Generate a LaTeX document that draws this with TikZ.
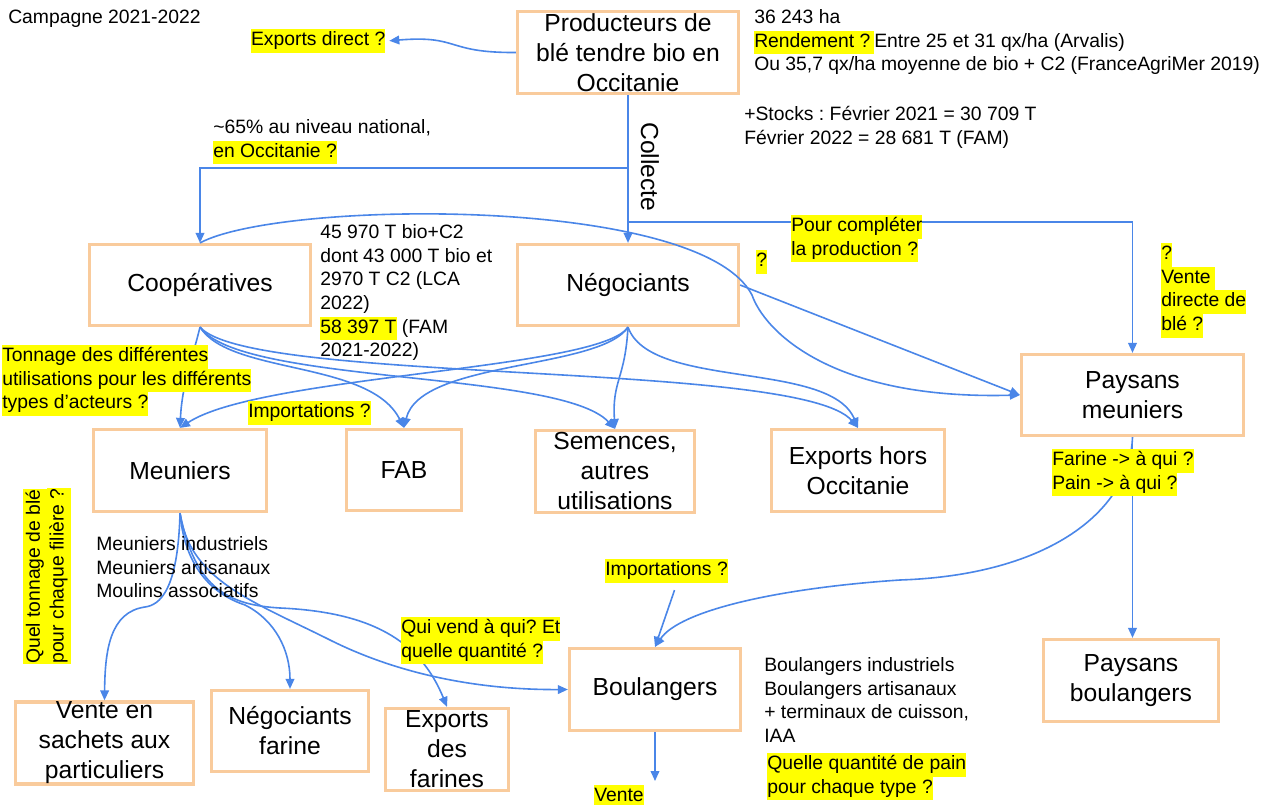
\documentclass[tikz,border=0pt]{standalone}
\usepackage{fontspec}
\setmainfont{Liberation Sans}
\usetikzlibrary{arrows.meta}
\definecolor{boxor}{HTML}{F9CB9C}
\definecolor{arrblue}{HTML}{4A86E8}
\definecolor{hlyel}{HTML}{FFFF00}
\newcommand\bxf{\fontsize{18.5}{22.5}\selectfont}
\newcommand\smf{\fontsize{14.5}{17.7}\selectfont}
\newcommand\hlt[1]{{\setlength{\fboxsep}{0pt}\colorbox{hlyel}{\strut #1}}}
\pgfdeclarelayer{back}
\pgfdeclarelayer{boxes}
\pgfdeclarelayer{links}
\pgfsetlayers{back,boxes,links,main}
\tikzset{
  box/.style={draw=boxor, line width=2.4pt, fill=white, align=center, inner sep=0pt, font=\bxf},
  arr/.style={draw=arrblue, line width=1.2pt, -{Triangle[length=7.5pt,width=6.5pt]}},
  txt/.style={inner sep=0pt, align=left, font=\smf, anchor=north west},
}
\frenchspacing
\begin{document}
\begin{tikzpicture}[x=0.75pt,y=-0.75pt]
\begin{pgfonlayer}{back}
\fill[white] (0,0) rectangle (1278,805);
\end{pgfonlayer}
\useasboundingbox (0,0) rectangle (1278,805);

% boxes
\begin{pgfonlayer}{boxes}
\node[box, minimum width=165.75pt, minimum height=61.5pt] (prod) at (628,52.5) {Producteurs de\\blé tendre bio en\\Occitanie};
\node[box, minimum width=165.75pt, minimum height=60.75pt] (coop) at (200,285) {Coopératives};
\node[box, minimum width=165.75pt, minimum height=60.75pt] (nego) at (628,285) {Négociants};
\node[box, minimum width=166.5pt, minimum height=60.75pt] (pmeun) at (1132.5,395) {Paysans\\meuniers};
\node[box, minimum width=129.75pt, minimum height=61.5pt] (meun) at (180,470.5) {Meuniers};
\node[box, minimum width=86.25pt, minimum height=60.75pt] (fab) at (404,470) {FAB};
\node[box, minimum width=119.25pt, minimum height=61.5pt] (sem) at (615,471.5) {Semences,\\autres\\utilisations};
\node[box, minimum width=129.75pt, minimum height=61.5pt] (exph) at (858,470.5) {Exports hors\\Occitanie};
\node[box, minimum width=133.5pt, minimum height=60.75pt] (vsach) at (104.5,743) {Vente en\\sachets aux\\particuliers};
\node[box, minimum width=117.75pt, minimum height=60.75pt] (negf) at (290,731) {Négociants\\farine};
\node[box, minimum width=92.25pt, minimum height=61.5pt] (expf) at (447,749.5) {Exports\\des\\farines};
\node[box, minimum width=128.25pt, minimum height=61.5pt] (boul) at (655,689.5) {Boulangers};
\node[box, minimum width=131.25pt, minimum height=61.5pt] (pboul) at (1131,680.5) {Paysans\\boulangers};
\end{pgfonlayer}

% texts
\node[txt] (camp) at (8,7) {\strut Campagne 2021-2022};
\node[txt, outer sep=3pt] (expd) at (247,25) {\hlt{Exports direct ?}};
\node[txt] (surf) at (754,7) {\strut 36 243 ha\\\hlt{Rendement ?\hspace{3pt}}Entre 25 et 31 qx/ha (Arvalis)\\\strut Ou 35,7 qx/ha moyenne de bio + C2 (FranceAgriMer 2019)};
\node[txt] (stock) at (744,104) {\strut +Stocks : Février 2021 = 30 709 T\\\strut Février 2022 = 28 681 T (FAM)};
\node[txt] (pct) at (213,117) {\strut \textasciitilde65\% au niveau national,\\\hlt{en Occitanie ?}};
\node[rotate=-90, font=\bxf, inner sep=0pt] (coll) at (650,167) {Collecte};
\node[txt] (tonn) at (320,222) {\strut 45 970 T bio+C2\\\strut dont 43 000 T bio et\\\strut 2970 T C2 (LCA\\\strut 2022)\\\hlt{58 397 T} (FAM\\\strut 2021-2022)};
\node[txt] (pourc) at (791,215) {\hlt{Pour compléter}\\\hlt{la production ?}};
\node[txt] (qm) at (756,250) {\hlt{?}};
\node[txt] (vdir) at (1161,243) {\hlt{?}\\\hlt{Vente\hspace{3pt}}\\\hlt{directe de}\\\hlt{blé ?}};
\node[txt] (tonu) at (2,345) {\hlt{Tonnage des différentes}\\\hlt{utilisations pour les différents}\\\hlt{types d’acteurs ?}};
\node[txt] (imp1) at (248,401) {\hlt{Importations ?}};
\node[txt] (farq) at (1052,449) {\hlt{Farine -> à qui ?}\\\hlt{Pain -> à qui ?}};
\node[txt] (mtyp) at (96,534) {\strut Meuniers industriels\\\strut Meuniers artisanaux\\\strut Moulins associatifs};
\node[rotate=90, inner sep=0pt, align=left, font=\smf] (qtonn) at (47,576) {\hlt{Quel tonnage de blé}\\\hlt{pour chaque filière ?}};
\node[txt] (imp2) at (605,559) {\hlt{Importations ?}};
\node[txt] (quiv) at (401,617) {\hlt{Qui vend à qui? Et}\\\hlt{quelle quantité ?}};
\node[txt] (btyp) at (764,655) {\strut Boulangers industriels\\\strut Boulangers artisanaux\\\strut + terminaux de cuisson,\\\strut IAA};
\node[txt] (qpain) at (767,753) {\hlt{Quelle quantité de pain}\\\hlt{pour chaque type ?}};
\node[txt] (vente) at (594,785) {\hlt{Vente}};

% junctions
\coordinate (j1) at (628,168);
\coordinate (j2) at (628,222);
\coordinate (vend) at (655,781);

% connectors (above boxes, below labels)
\begin{pgfonlayer}{links}
\draw[arr] (prod.west) .. controls (445,53) and (460,35) .. (expd.east);
\draw[arr] (prod.south) -- (nego.north);
\draw[arr] (j1) -| (coop.north);
\draw[arr] (j2) -| (pmeun.north);
\draw[arr] (coop.north) .. controls (280,200) and (700,195) .. (752,295) .. controls (764,330) and (830,400) .. (pmeun.west);
\draw[arr] (nego.east) -- (pmeun.west);

\draw[arr] (coop.south) .. controls (192,360) and (182,385) .. (meun.north);
\draw[arr] (coop.south) .. controls (230,375) and (370,360) .. (fab.north);
\draw[arr] (coop.south) .. controls (240,385) and (560,370) .. (sem.north);
\draw[arr] (coop.south) .. controls (250,385) and (800,360) .. (exph.north);

\draw[arr] (nego.south) .. controls (600,370) and (260,375) .. (meun.north);
\draw[arr] (nego.south) .. controls (600,370) and (420,360) .. (fab.north);
\draw[arr] (nego.south) .. controls (625,380) and (612,380) .. (sem.north);
\draw[arr] (nego.south) .. controls (650,390) and (830,360) .. (exph.north);

\draw[arr] (meun.south) .. controls (178,590) and (160,605) .. (145,607) .. controls (110,612) and (105,650) .. (vsach.north);
\draw[arr] (meun.south) .. controls (185,570) and (215,595) .. (245,605) .. controls (275,620) and (290,650) .. (negf.north);
\draw[arr] (meun.south) .. controls (195,590) and (230,605) .. (280,608) .. controls (370,612) and (420,640) .. (expf.north);
\draw[arr] (meun.south) .. controls (190,580) and (250,600) .. (330,640) .. controls (400,675) and (480,690) .. (boul.west);

\draw[arr] (pmeun.south) -- (pmeun.south |- pboul.north);
\draw[arr] (pmeun.south) .. controls (1130,510) and (1050,575) .. (900,580) .. controls (780,588) and (680,610) .. (boul.north);
\draw[arr] ([shift={(8,7)}]imp2.south) -- (boul.north);
\draw[arr] (boul.south) -- (vend);
\end{pgfonlayer}
\end{tikzpicture}
\end{document}
